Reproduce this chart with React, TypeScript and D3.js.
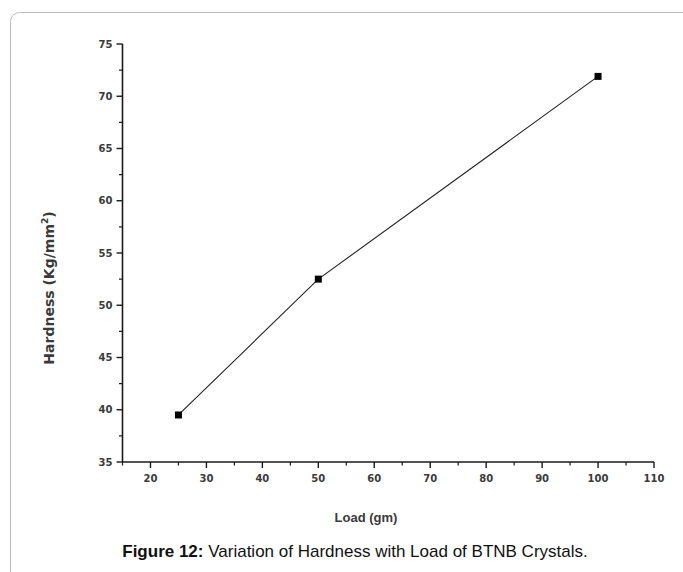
import React from "react";
import * as d3 from "d3";

const loads = [25, 50, 100];
const hardness = [39.5, 52.5, 71.9];
const xMajorTicks = [20, 30, 40, 50, 60, 70, 80, 90, 100, 110];
const xMinorTicks = [15, 25, 35, 45, 55, 65, 75, 85, 95, 105];
const yMajorTicks = [35, 40, 45, 50, 55, 60, 65, 70, 75];
const yMinorTicks = [37.5, 42.5, 47.5, 52.5, 57.5, 62.5, 67.5, 72.5];
const xTitle = "Load (gm)";
const captionBold = "Figure 12:";
const captionText = " Variation of Hardness with Load of BTNB Crystals.";

export default function App() {
  const W = 683, H = 572;
  const x = d3.scaleLinear().domain([15, 110]).range([122.5, 654]);
  const y = d3.scaleLinear().domain([35, 75]).range([462, 44]);
  const line = d3.line<number>().x((d, i) => x(loads[i])).y((d) => y(d));
  const axisColor = "#1a1a1a";
  const labelColor = "#3a3a3a";
  const font = "'Liberation Sans', Arial, sans-serif";
  const tickFont = "'DejaVu Sans', Verdana, sans-serif";
  return (
    <svg width={W} height={H} style={{ position: "absolute", left: 0, top: 0, background: "#fff" }} fontFamily={font}>
      <rect x={10.5} y={12.5} width={720} height={620} rx={9} fill="#fff" stroke="#bdbdbd" strokeWidth={1} />
      {/* y axis */}
      <line x1={x(15)} x2={x(15)} y1={y(75)} y2={y(35)} stroke={axisColor} strokeWidth={1.6} />
      {yMajorTicks.map((t) => (
        <g key={"ym" + t}>
          <line x1={x(15) - 6} x2={x(15)} y1={y(t)} y2={y(t)} stroke={axisColor} strokeWidth={1.4} />
          <text x={x(15) - 10} y={y(t)} dy="0.35em" textAnchor="end" fontSize={10} fontWeight="bold" fill={labelColor} fontFamily={tickFont}>{t}</text>
        </g>
      ))}
      {yMinorTicks.map((t) => (
        <line key={"yn" + t} x1={x(15) - 3.5} x2={x(15)} y1={y(t)} y2={y(t)} stroke={axisColor} strokeWidth={1.2} />
      ))}
      {/* x axis */}
      <line x1={x(15)} x2={x(110)} y1={y(35)} y2={y(35)} stroke={axisColor} strokeWidth={1.6} />
      {xMajorTicks.map((t) => (
        <g key={"xm" + t}>
          <line x1={x(t)} x2={x(t)} y1={y(35)} y2={y(35) + 6} stroke={axisColor} strokeWidth={1.4} />
          <text x={x(t)} y={y(35) + 20} textAnchor="middle" fontSize={10} fontWeight="bold" fill={labelColor} fontFamily={tickFont}>{t}</text>
        </g>
      ))}
      {xMinorTicks.map((t) => (
        <line key={"xn" + t} x1={x(t)} x2={x(t)} y1={y(35)} y2={y(35) + 3.5} stroke={axisColor} strokeWidth={1.2} />
      ))}
      {/* data */}
      <path d={line(hardness) || ""} fill="none" stroke="#222" strokeWidth={1.1} />
      {hardness.map((v, i) => (
        <rect key={"p" + i} x={x(loads[i]) - 3.5} y={y(v) - 3.5} width={7} height={7} fill="#000" />
      ))}
      {/* titles */}
      <text transform={`translate(54, 288) rotate(-90)`} textAnchor="middle" fontSize={14} fontWeight="bold" fill={labelColor} fontFamily={tickFont}>
        Hardness (Kg/mm<tspan fontSize={9} dy={-6}>2</tspan><tspan dy={6}>)</tspan>
      </text>
      <text x={366} y={522} textAnchor="middle" fontSize={13} fontWeight="bold" fill={labelColor}>{xTitle}</text>
      <text x={355} y={557} textAnchor="middle" fontSize={17} fill="#111">
        <tspan fontWeight="bold">{captionBold}</tspan>{captionText}
      </text>
    </svg>
  );
}
